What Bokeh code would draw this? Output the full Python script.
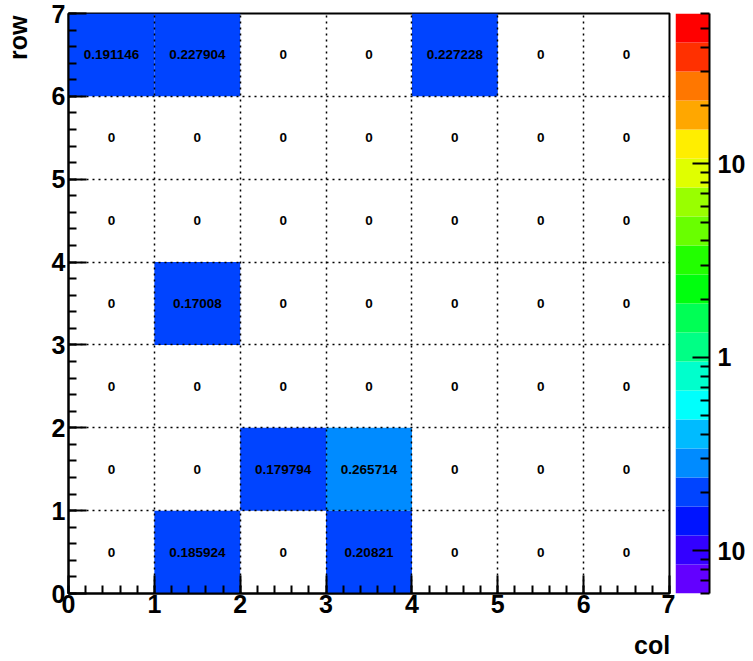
import math
import numpy as np
from bokeh.plotting import figure
from bokeh.models import (LogColorMapper, SingleIntervalTicker, FixedTicker,
                          ColumnDataSource, BasicTickFormatter)
from bokeh.transform import transform
from bokeh.layouts import row
from bokeh.core.properties import value
from bokeh.embed import file_html
from bokeh.resources import INLINE

# ---------------- data ----------------
col_index = [0, 1, 2, 3, 4, 5, 6]
row_index = [0, 1, 2, 3, 4, 5, 6]
row0 = [0, 0.185924, 0, 0.20821, 0, 0, 0]
row1 = [0, 0, 0.179794, 0.265714, 0, 0, 0]
row2 = [0, 0, 0, 0, 0, 0, 0]
row3 = [0, 0.17008, 0, 0, 0, 0, 0]
row4 = [0, 0, 0, 0, 0, 0, 0]
row5 = [0, 0, 0, 0, 0, 0, 0]
row6 = [0.191146, 0.227904, 0, 0, 0.227228, 0, 0]
z_min = 0.06
z_max = 60.0
cbar_major = [0.1, 1, 10]
cbar_labels = {0.1: "10", 1: "1", 10: "10"}
x_title = "col"
y_title = "row"

palette = ["#6300ff", "#3300ff", "#0014ff", "#0044ff", "#008bff", "#00bbff",
           "#00fffc", "#00ffcc", "#00ff85", "#00ff55", "#00ff0e", "#22ff00",
           "#69ff00", "#99ff00", "#e0ff00", "#ffee00", "#ffa700", "#ff7700",
           "#ff3000", "#ff0000"]

matrix = [row0, row1, row2, row3, row4, row5, row6]

FONT = "Liberation Sans"
NBSP = "\u00a0"

# ---------------- sources ----------------
cx, cy, ct = [], [], []
fl, fr, fb, ft, fz = [], [], [], [], []
for r, vals in zip(row_index, matrix):
    for c, v in zip(col_index, vals):
        cx.append(c + 0.5)
        cy.append(r + 0.5)
        ct.append("{:g}".format(v))
        if v > 0:
            fl.append(c); fr.append(c + 1); fb.append(r); ft.append(r + 1); fz.append(v)

mapper = LogColorMapper(palette=palette, low=z_min, high=z_max)

# ---------------- main plot ----------------
p = figure(width=675, height=661, x_range=(0, 7), y_range=(0, 7),
           output_backend="svg", toolbar_location=None,
           min_border_left=66, min_border_right=6, min_border_top=13, min_border_bottom=68)
p.background_fill_color = "white"
p.border_fill_color = "white"
p.outline_line_color = "black"
p.outline_line_width = 2

cell_src = ColumnDataSource(dict(left=fl, right=fr, bottom=fb, top=ft, z=fz))
p.quad(left="left", right="right", bottom="bottom", top="top",
       fill_color=transform("z", mapper), line_color=None, source=cell_src)
p.text(x=cx, y=cy, text=ct, text_align="center", text_baseline="middle",
       text_font=value(FONT), text_font_style="bold", text_font_size="13.5px",
       text_color="black")

for ax in (p.xaxis[0], p.yaxis[0]):
    ax.ticker = SingleIntervalTicker(interval=1, num_minor_ticks=5)
    ax.axis_line_width = 2
    ax.axis_line_color = "black"
    ax.major_tick_in = 18
    ax.major_tick_out = 0
    ax.minor_tick_in = 8
    ax.minor_tick_out = 0
    ax.major_tick_line_width = 2
    ax.minor_tick_line_width = 2
    ax.major_label_text_font = FONT
    ax.major_label_text_font_style = "bold"
    ax.major_label_text_font_size = "25px"
    ax.major_label_text_color = "black"
    ax.axis_label_text_font = FONT
    ax.axis_label_text_font_style = "bold"
    ax.axis_label_text_font_size = "25px"
    ax.axis_label_text_color = "black"
p.xaxis.major_label_standoff = 1
p.yaxis.major_label_standoff = 3

# titles sit at the far end of each axis (label is centred on the end,
# the non-breaking spaces shift the visible word back inside)
p.xaxis.axis_label = x_title + NBSP * 5
p.yaxis.axis_label = y_title + NBSP * 7
p.xaxis.axis_label_standoff = 15
p.yaxis.axis_label_standoff = 17
try:
    p.xaxis[0].axis_label_align = "end"
    p.yaxis[0].axis_label_align = "end"
except AttributeError:
    pass

for g in (p.xgrid[0], p.ygrid[0]):
    g.ticker = SingleIntervalTicker(interval=1)
    g.grid_line_color = "black"
    g.grid_line_dash = "2 4"
    g.grid_line_width = 1.5
    g.level = "overlay"

# ---------------- colour bar ----------------
levels = 10 ** np.linspace(math.log10(z_min), math.log10(z_max), len(palette) + 1)
p2 = figure(width=78, height=661, x_range=(0, 1), y_range=(z_min, z_max),
            y_axis_type="log", y_axis_location="right", x_axis_location=None,
            output_backend="svg", toolbar_location=None,
            min_border_left=0, min_border_right=44, min_border_top=13, min_border_bottom=68)
p2.outline_line_color = None
p2.grid.visible = False
p2.background_fill_color = "white"
p2.border_fill_color = "white"
p2.quad(left=0, right=1, bottom=list(levels[:-1]), top=list(levels[1:]),
        fill_color=palette, line_color=None)
minor = [m * 10.0 ** e for e in (-2, -1, 0, 1) for m in range(2, 10)
         if z_min <= m * 10.0 ** e <= z_max]
ay = p2.yaxis[0]
ay.ticker = FixedTicker(ticks=cbar_major, minor_ticks=minor)
ay.formatter = BasicTickFormatter()
ay.major_label_overrides = cbar_labels
ay.axis_line_width = 2
ay.major_tick_in = 17
ay.major_tick_out = 0
ay.minor_tick_in = 9
ay.minor_tick_out = 0
ay.major_tick_line_width = 2
ay.minor_tick_line_width = 2
ay.major_label_standoff = 8
ay.major_label_text_font = FONT
ay.major_label_text_font_style = "bold"
ay.major_label_text_font_size = "25px"
ay.major_label_text_color = "black"

layout = row(p, p2)
open("out.html", "w").write(file_html(layout, INLINE))
